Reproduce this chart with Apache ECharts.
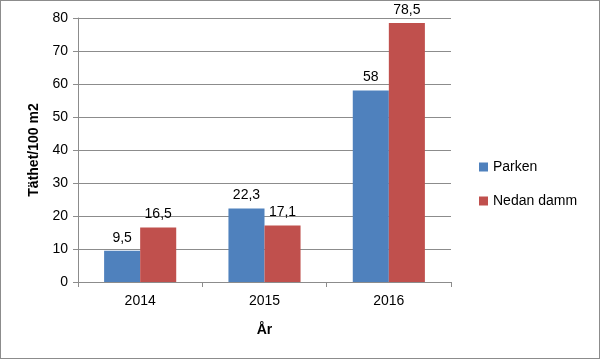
<!DOCTYPE html>
<html><head><meta charset="utf-8">
<script src="https://cdn.jsdelivr.net/npm/echarts@6/dist/echarts.min.js"></script>
<style>
html,body{margin:0;padding:0;background:#fff;}
#c{position:absolute;left:0;top:0;width:598px;height:357px;border:1px solid #8c8c8c;}
</style></head><body>
<div id="c"></div>
<script>
var categories = ['2014', '2015', '2016'];
var parken = [9.5, 22.3, 58];
var nedanDamm = [16.5, 17.1, 78.5];
var seriesNames = ['Parken', 'Nedan damm'];
var yTicks = [0, 10, 20, 30, 40, 50, 60, 70, 80];

var chart = echarts.init(document.getElementById('c'));
var fmt = function(p){ return String(p.value).replace('.', ','); };
var font = 'Liberation Sans, Arial, sans-serif';
chart.setOption({
  animation: false,
  textStyle: {fontFamily: font},
  grid: {left: 77, right: 148, top: 17, bottom: 76},
  legend: {
    orient: 'vertical', left: 473, top: 154, itemWidth: 9, itemHeight: 9, itemGap: 20,
    icon: 'rect',
    textStyle: {fontSize: 14, color: '#000', fontFamily: font},
    data: seriesNames
  },
  xAxis: {
    type: 'category', data: categories,
    name: 'År', nameLocation: 'middle', nameGap: 41,
    nameTextStyle: {fontSize: 14, fontWeight: 'bold', color: '#000'},
    axisLine: {lineStyle: {color: '#8c8c8c'}},
    axisTick: {show: true, length: 5, lineStyle: {color: '#8c8c8c'}},
    axisLabel: {fontSize: 14, color: '#000', margin: 12}
  },
  yAxis: {
    type: 'value', min: yTicks[0], max: yTicks[yTicks.length-1], interval: 10,
    name: 'Täthet/100 m2', nameLocation: 'middle', nameGap: 37,
    nameTextStyle: {fontSize: 14, fontWeight: 'bold', color: '#000'},
    axisLine: {show: true, lineStyle: {color: '#8c8c8c'}},
    axisTick: {show: true, length: 5, lineStyle: {color: '#8c8c8c'}},
    axisLabel: {fontSize: 14, color: '#000', margin: 10},
    splitLine: {lineStyle: {color: '#8c8c8c'}}
  },
  series: [
    {name: seriesNames[0], type: 'bar', data: parken, barCategoryGap: '42%', barGap: '0%',
     itemStyle: {color: '#4F81BD'},
     label: {show: true, position: 'top', fontSize: 14, color: '#000', formatter: fmt, distance: 6}},
    {name: seriesNames[1], type: 'bar', data: nedanDamm, barCategoryGap: '42%', barGap: '0%',
     itemStyle: {color: '#C0504D'},
     label: {show: true, position: 'top', fontSize: 14, color: '#000', formatter: fmt, distance: 6}}
  ]
});
</script>
</body></html>
